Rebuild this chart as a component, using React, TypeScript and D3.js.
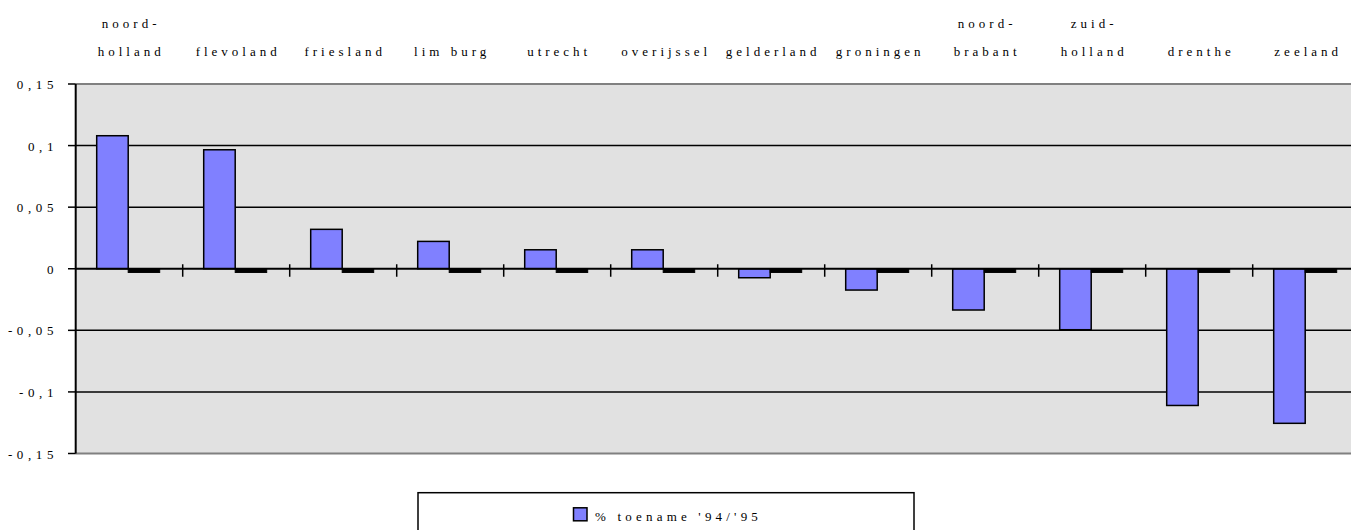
import React from "react";
import * as d3 from "d3";

const categories: string[][] = [
  ["noord-", "holland"],
  ["flevoland"],
  ["friesland"],
  ["lim burg"],
  ["utrecht"],
  ["overijssel"],
  ["gelderland"],
  ["groningen"],
  ["noord-", "brabant"],
  ["zuid-", "holland"],
  ["drenthe"],
  ["zeeland"],
];
const toename: number[] = [0.108, 0.0966, 0.032, 0.0222, 0.0154, 0.0154, -0.0073, -0.0173, -0.0335, -0.0495, -0.111, -0.1255];
const tweede: number[] = [-0.003, -0.003, -0.003, -0.003, -0.003, -0.003, -0.003, -0.003, -0.003, -0.003, -0.003, -0.003];
const yTicks: number[] = [0.15, 0.1, 0.05, 0, -0.05, -0.1, -0.15];
const yTickLabels: string[] = ["0,15", "0,1", "0,05", "0", "-0,05", "-0,1", "-0,15"];
const legendLabel = "% toename '94/'95";

const W = 1351;
const H = 530;
const left = 75.7;
const bandW = 107;
const top = 84;
const bottom = 453.5;
const FONT = "Liberation Serif";

export default function App() {
  const keys = categories.map((_, i) => String(i));
  const x = d3.scaleBand<string>().domain(keys).range([left, left + bandW * keys.length]).padding(0);
  const xs = d3.scaleBand<string>().domain(["a", "b"]).range([21, 84]).padding(0);
  const y = d3.scaleLinear().domain([-0.15, 0.15]).range([bottom, top]);
  const right = left + bandW * keys.length;
  const y0 = y(0);

  const barRect = (v: number) => ({ y: Math.min(y(v), y0), h: Math.abs(y(v) - y0) });
  const txt: React.CSSProperties = { fontFamily: FONT };

  return (
    <svg width={W} height={H} style={{ position: "absolute", left: 0, top: 0, background: "#fff" }}>
      {/* plot background */}
      <rect x={left} y={top} width={right - left} height={bottom - top} fill="#e1e1e1" />
      {/* gridlines */}
      {yTicks.filter((t) => t !== 0.15 && t !== -0.15 && t !== 0).map((t) => (
        <line key={t} x1={left} x2={right} y1={y(t)} y2={y(t)} stroke="#000" strokeWidth={1.5} />
      ))}
      <line x1={left} x2={right} y1={y(0.15)} y2={y(0.15)} stroke="#808080" strokeWidth={2} />
      <line x1={left} x2={right} y1={y(-0.15)} y2={y(-0.15)} stroke="#808080" strokeWidth={2} />
      {/* bars */}
      {keys.map((k, i) => {
        const a = barRect(toename[i]);
        const b = barRect(tweede[i]);
        const bx = x(k)!;
        return (
          <g key={k}>
            <rect x={bx + xs("a")!} y={a.y} width={xs.bandwidth()} height={a.h} fill="#8080ff" stroke="#000" strokeWidth={1.5} />
            <rect x={bx + xs("b")!} y={b.y} width={xs.bandwidth()} height={b.h} fill="#000" stroke="#000" strokeWidth={1} />
          </g>
        );
      })}
      {/* zero line */}
      <line x1={left} x2={right} y1={y0} y2={y0} stroke="#000" strokeWidth={2.2} />
      {/* category ticks */}
      {keys.slice(1).map((k) => (
        <line key={k} x1={x(k)!} x2={x(k)!} y1={y0 - 4.5} y2={y0 + 8} stroke="#000" strokeWidth={1.5} />
      ))}
      {/* y axis */}
      <line x1={left} x2={left} y1={top} y2={bottom} stroke="#000" strokeWidth={2} />
      {yTicks.map((t, i) => (
        <g key={t}>
          <line x1={68} x2={left} y1={y(t)} y2={y(t)} stroke="#000" strokeWidth={1.5} />
          <text x={58} y={y(t) + 5} textAnchor="end" fontSize={13} letterSpacing={4.6} fill="#000" style={txt}>
            {yTickLabels[i]}
          </text>
        </g>
      ))}
      {/* category labels */}
      {keys.map((k, i) => {
        const cx = x(k)! + bandW / 2 + 2;
        const lines = categories[i];
        return lines.map((ln, j) => (
          <text
            key={k + "-" + j}
            x={cx}
            y={lines.length === 2 ? (j === 0 ? 28 : 56) : 56}
            textAnchor="middle"
            fontSize={13}
            letterSpacing={4}
            fill="#000"
            style={txt}
          >
            {ln}
          </text>
        ));
      })}
      {/* legend */}
      <rect x={418} y={492.7} width={496} height={60} fill="#fff" stroke="#000" strokeWidth={1.5} />
      <rect x={573.5} y={507.8} width={13.5} height={13} fill="#8080ff" stroke="#000" strokeWidth={1.5} />
      <text x={595} y={521} fontSize={13} letterSpacing={4.2} fill="#000" style={txt}>
        {legendLabel}
      </text>
    </svg>
  );
}
